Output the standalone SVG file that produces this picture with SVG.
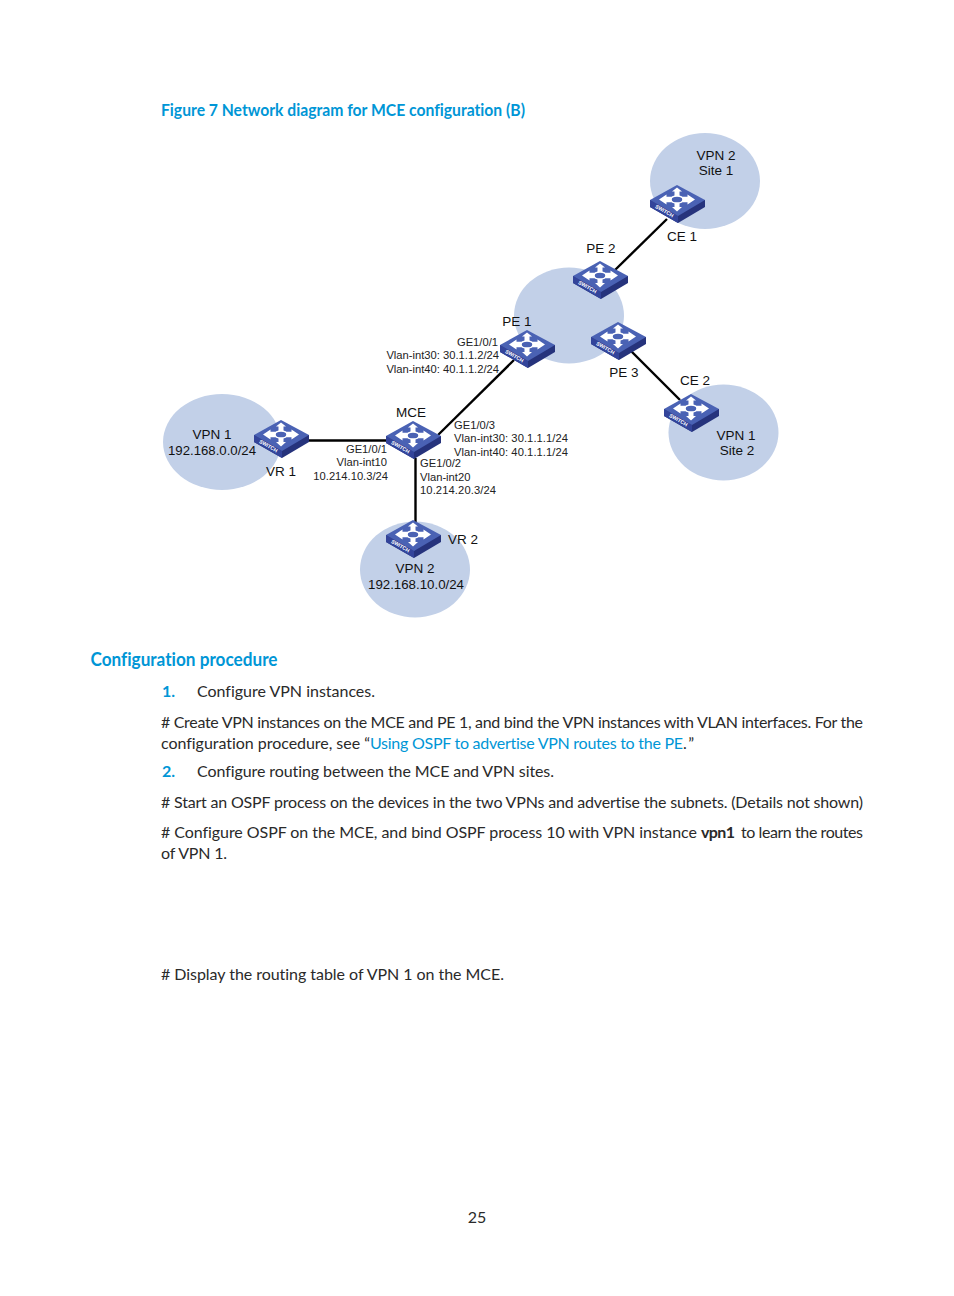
<svg xmlns="http://www.w3.org/2000/svg" xmlns:xlink="http://www.w3.org/1999/xlink" width="954" height="1296" viewBox="0 0 954 1296">
<style>
.cloud{fill:#c2d0e8}
.link{stroke:#000;stroke-width:2.4;fill:none}
.l{font:13.5px "Liberation Sans",Arial,sans-serif;fill:#111}
.s{font:11.2px "Liberation Sans",Arial,sans-serif;fill:#222}
.b{font:16px Lato,"Open Sans",sans-serif;fill:#2a2a2a}
.h{font:bold 17px Lato,"Open Sans",sans-serif;fill:#0096d6}
.n{font:bold 16px Lato,"Open Sans",sans-serif;fill:#0096d6}
.a{fill:#0096d6}
.m{text-anchor:middle}
.e{text-anchor:end}
text{font-variant-ligatures:none !important}
</style>
<defs>
<g id="sw">
<path d="M-27 15L-27 22L1 38L28 22L28 15Z" fill="#26337c"/>
<path d="M-27 15L1 31L1 38L-27 22Z" fill="#33449a"/>
<path d="M0 0L28 15L1 31L-27 15Z" fill="#4a62b4"/>
<path d="M0 2.500L5 6.500H2.500V11.800L10.500 11.800V9.500L18 14.500L10.500 19.500V17.200H2.500V22H5L0 26.500L-5 22H-2.500V17.200H-10.500V19.500L-18 14.500L-10.500 9.500V11.800H-2.500V6.500H-5Z" fill="#fff"/>
<ellipse cx="0" cy="14.500" rx="6" ry="3.600" fill="#4a62b4" stroke="#fff" stroke-width="1.500"/>
<text transform="translate(-13.500 27.500) rotate(30)" font-family="Liberation Sans,sans-serif" font-size="5.200" font-weight="bold" fill="#fff" text-anchor="middle">SWITCH</text>
</g>
</defs>
<g id="clouds">
<ellipse class="cloud" cx="705" cy="181" rx="55" ry="48"/>
<ellipse class="cloud" cx="569" cy="315.500" rx="55" ry="48"/>
<ellipse class="cloud" cx="723.500" cy="432.500" rx="55" ry="48"/>
<ellipse class="cloud" cx="222" cy="442" rx="59" ry="48"/>
<ellipse class="cloud" cx="415" cy="569.500" rx="55" ry="48"/>
</g>
<g id="connectors">
<path class="link" d="M667 219L615 270"/>
<path class="link" d="M631 351L680 400"/>
<path class="link" d="M514 360L438 435"/>
<path class="link" d="M305 440.500H388"/>
<path class="link" d="M415.500 458V522"/>
</g>
<g id="ce1"><use href="#sw" x="677" y="185"/><text class="l" x="682" y="241" text-anchor="middle">CE 1</text></g>
<g id="pe2"><use href="#sw" x="600" y="261"/><text class="l m" x="601" y="253">PE 2</text></g>
<g id="pe1"><use href="#sw" x="527" y="330"/><text class="l m" x="517" y="326">PE 1</text></g>
<g id="pe3"><use href="#sw" x="618" y="322"/><text class="l m" x="624" y="377">PE 3</text></g>
<g id="ce2"><use href="#sw" x="691" y="394"/><text class="l m" x="695" y="385">CE 2</text></g>
<g id="mce"><use href="#sw" x="413" y="421"/><text class="l m" x="411" y="417">MCE</text></g>
<g id="vr1"><use href="#sw" x="281" y="420"/><text class="l m" x="281" y="476">VR 1</text></g>
<g id="vr2"><use href="#sw" x="413" y="520"/><text class="l m" x="463" y="544">VR 2</text></g>
<g id="labels">
<text class="l m" x="716" y="160">VPN 2</text><text class="l m" x="716" y="175">Site 1</text>
<text class="l m" x="736" y="440">VPN 1</text><text class="l m" x="737" y="455">Site 2</text>
<text class="l m" x="212" y="439">VPN 1</text><text class="l m" x="212" y="455" textLength="88" lengthAdjust="spacingAndGlyphs">192.168.0.0/24</text>
<text class="l m" x="415" y="573">VPN 2</text><text class="l m" x="416" y="589" textLength="96" lengthAdjust="spacingAndGlyphs">192.168.10.0/24</text>
<text class="s e" x="498" y="346">GE1/0/1</text>
<text class="s e" x="499" y="359">Vlan-int30: 30.1.1.2/24</text>
<text class="s e" x="499" y="373">Vlan-int40: 40.1.1.2/24</text>
<text class="s" x="454" y="429">GE1/0/3</text>
<text class="s" x="454" y="442" textLength="114">Vlan-int30: 30.1.1.1/24</text>
<text class="s" x="454" y="456" textLength="114">Vlan-int40: 40.1.1.1/24</text>
<text class="s e" x="387" y="453">GE1/0/1</text>
<text class="s e" x="387" y="466">Vlan-int10</text>
<text class="s e" x="388" y="480">10.214.10.3/24</text>
<text class="s" x="420" y="467">GE1/0/2</text>
<text class="s" x="420" y="481">Vlan-int20</text>
<text class="s" x="420" y="494" textLength="76">10.214.20.3/24</text>
</g>
<g id="document">
<text class="h" x="161" y="116" textLength="364" lengthAdjust="spacingAndGlyphs">Figure 7 Network diagram for MCE configuration (B)</text>
<text class="h" x="90.500" y="666" style="font-size:19px" textLength="187" lengthAdjust="spacingAndGlyphs">Configuration procedure</text>
<text class="n" x="162" y="697">1.</text>
<text class="b" x="197" y="697" textLength="178">Configure VPN instances.</text>
<text class="b" x="161" y="728" textLength="702"># Create VPN instances on the MCE and PE 1, and bind the VPN instances with VLAN interfaces. For the</text>
<text class="b" x="161" y="749" textLength="209">configuration procedure, see “</text>
<text class="b a" x="370" y="749" textLength="313">Using OSPF to advertise VPN routes to the PE</text>
<text class="b" x="683" y="749" textLength="11">.”</text>
<text class="n" x="162" y="777">2.</text>
<text class="b" x="197" y="777" textLength="357">Configure routing between the MCE and VPN sites.</text>
<text class="b" x="161" y="808" textLength="702"># Start an OSPF process on the devices in the two VPNs and advertise the subnets. (Details not shown)</text>
<text class="b" x="161" y="838" textLength="536"># Configure OSPF on the MCE, and bind OSPF process 10 with VPN instance</text>
<text class="b" x="701" y="838" style="font-weight:bold" textLength="34">vpn1</text>
<text class="b" x="741" y="838" textLength="122">to learn the routes</text>
<text class="b" x="161" y="859" textLength="66">of VPN 1.</text>
<text class="b" x="161" y="980" textLength="343"># Display the routing table of VPN 1 on the MCE.</text>
<text class="b m" x="477" y="1223">25</text>
</g>
</svg>
